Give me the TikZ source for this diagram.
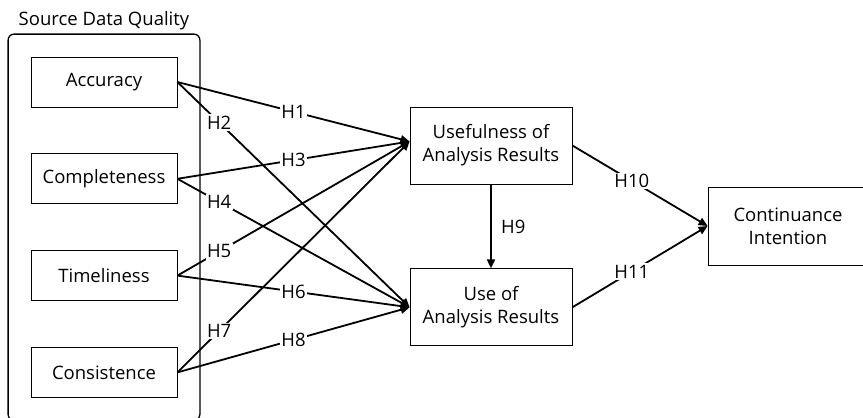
\documentclass[tikz,border=0pt]{standalone}
\usepackage{fontspec}
\setmainfont{Open Sans}
\usetikzlibrary{positioning,fit,arrows.meta}

\tikzset{
  txt/.style={font=\fontsize{18.5}{23}\selectfont},
  factor/.style={draw, line width=0.8pt, minimum width=146pt, minimum height=50pt, inner sep=0pt, txt},
  construct/.style={draw, line width=0.8pt, minimum width=162pt, minimum height=77pt, inner sep=0pt, align=center, txt},
  group/.style={draw, line width=1.3pt, rounded corners=6pt, inner sep=22.5pt},
  hyp/.style={-{Triangle[length=9pt,width=8pt]}, line width=1.8pt},
  hlabel/.style={fill=white, inner sep=1.5pt, txt},
}

\begin{document}
\begin{tikzpicture}[x=1pt,y=-1pt]
\useasboundingbox (0,0) rectangle (863,418);
% source data quality
\node[factor] (acc) at (104,82) {Accuracy};
\node[factor, below=46pt of acc] (comp) {Completeness};
\node[factor, below=46pt of comp] (time) {Timeliness};
\node[factor, below=46pt of time] (cons) {Consistence};
\node[group, fit=(acc)(cons)] (sdq) {};
\node[txt, above=0pt of sdq] (sdqtitle) {Source Data Quality};

% outcomes
\node[construct] (useful) at (491,145.5) {Usefulness of\\Analysis Results};
\node[construct, below=84pt of useful] (use) {Use of\\Analysis Results};
\node[construct, minimum width=160pt, minimum height=78pt] (cont) at (788,226) {Continuance\\Intention};
\coordinate (usefulin) at ([yshift=4pt]useful.west);

\draw[hyp] (acc.east) -- node[hlabel, pos=0.5] {H1} (usefulin);
\draw[hyp] (acc.east) -- node[hlabel, pos=0.18] {H2} (use.west);
\draw[hyp] (comp.east) -- node[hlabel, pos=0.5] {H3} (usefulin);
\draw[hyp] (comp.east) -- node[hlabel, pos=0.18] {H4} (use.west);
\draw[hyp] (time.east) -- node[hlabel, pos=0.18] {H5} (usefulin);
\draw[hyp] (time.east) -- node[hlabel, pos=0.5] {H6} (use.west);
\draw[hyp] (cons.east) -- node[hlabel, pos=0.18] {H7} (usefulin);
\draw[hyp] (cons.east) -- node[hlabel, pos=0.5] {H8} (use.west);
\draw[hyp] (useful) -- node[txt, right=6pt] {H9} (use);
\draw[hyp] (useful.east) -- node[hlabel, pos=0.44] {H10} (cont.west);
\draw[hyp] (use.east) -- node[hlabel, pos=0.44] {H11} (cont.west);
\end{tikzpicture}
\end{document}
